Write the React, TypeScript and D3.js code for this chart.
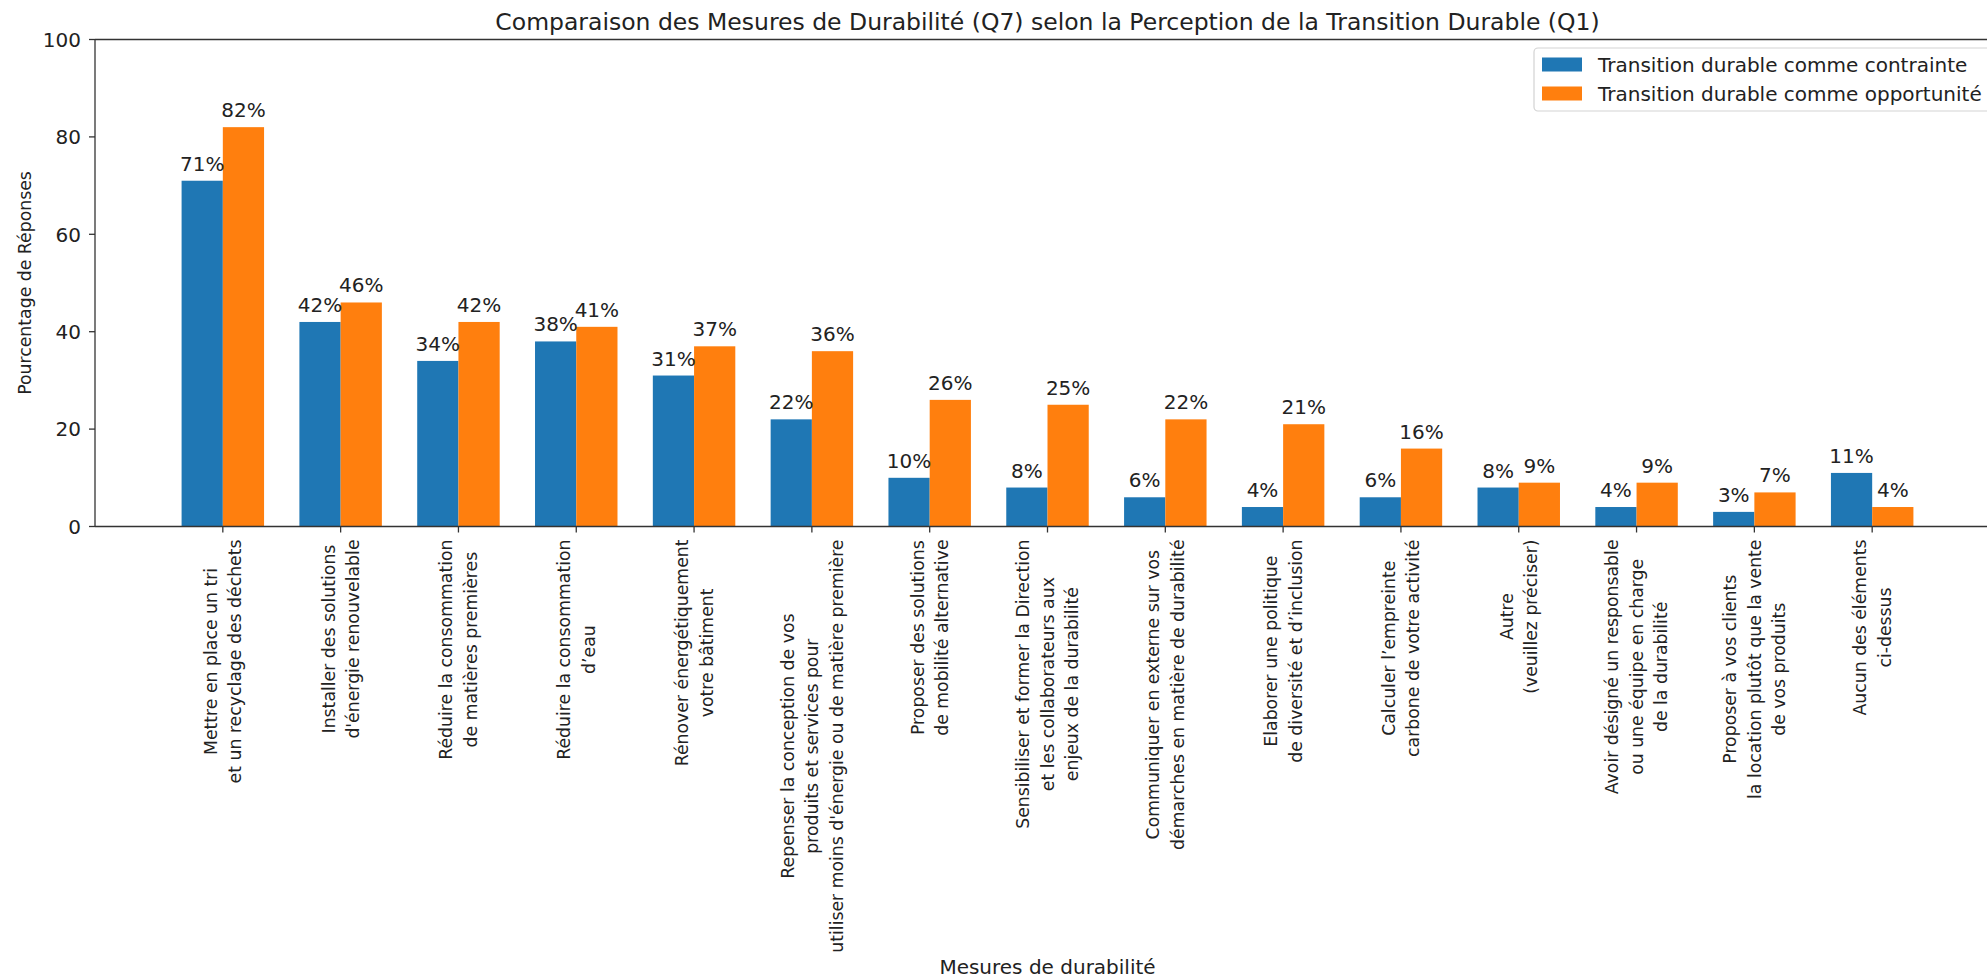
import React from 'react';
import * as d3 from 'd3';

const categories: string[] = [
  "Mettre en place un tri\net un recyclage des déchets",
  "Installer des solutions\nd'énergie renouvelable",
  "Réduire la consommation\nde matières premières",
  "Réduire la consommation\nd’eau",
  "Rénover énergétiquement\nvotre bâtiment",
  "Repenser la conception de vos\nproduits et services pour\nutiliser moins d'énergie ou de matière première",
  "Proposer des solutions\nde mobilité alternative",
  "Sensibiliser et former la Direction\net les collaborateurs aux\nenjeux de la durabilité",
  "Communiquer en externe sur vos\ndémarches en matière de durabilité",
  "Elaborer une politique\nde diversité et d’inclusion",
  "Calculer l’empreinte\ncarbone de votre activité",
  "Autre\n(veuillez préciser)",
  "Avoir désigné un responsable\nou une équipe en charge\nde la durabilité",
  "Proposer à vos clients\nla location plutôt que la vente\nde vos produits",
  "Aucun des éléments\nci-dessus",
];
const contrainte: number[] = [71, 42, 34, 38, 31, 22, 10, 8, 6, 4, 6, 8, 4, 3, 11];
const opportunite: number[] = [82, 46, 42, 41, 37, 36, 26, 25, 22, 21, 16, 9, 9, 7, 4];
const yTicks: number[] = [0, 20, 40, 60, 80, 100];
const seriesNames: string[] = ["Transition durable comme contrainte", "Transition durable comme opportunité"];
const seriesColors: string[] = ["#1f77b4", "#ff7f0e"];
const titleText = "Comparaison des Mesures de Durabilité (Q7) selon la Perception de la Transition Durable (Q1)";
const xLabelText = "Mesures de durabilité";
const yLabelText = "Pourcentage de Réponses";

const W = 1987;
const H = 980;
const FONT = "DejaVu Sans, sans-serif";
const FS = 20;
const FS_X = 17.3;
const TEXT = "#222";

let ctx: CanvasRenderingContext2D | null = null;
function measure(t: string, fs: number): number {
  if (typeof document === 'undefined') return t.length * fs * 0.55;
  if (!ctx) ctx = document.createElement('canvas').getContext('2d');
  if (!ctx) return t.length * fs * 0.55;
  ctx.font = `${fs}px "DejaVu Sans"`;
  return ctx.measureText(t).width;
}

export default function App() {
  const x = d3.scaleLinear().domain([-1.085, 15.085]).range([95, 2000]);
  const y = d3.scaleLinear().domain([0, 100]).range([526.5, 39.5]);
  const barW = 0.35;
  const x0 = x.range()[0];
  const x1 = x.range()[1];
  const yTop = y(100);
  const yBot = y(0);
  const series = [contrainte, opportunite];
  const lineH = 24.5;
  const labelTop = yBot + 13;

  return (
    <svg width={W} height={H} style={{ position: 'absolute', left: 0, top: 0, background: '#fff' }}
      fontFamily={FONT}>
      <rect x={0} y={0} width={W} height={H} fill="#fff" />
      {series.map((vals, s) =>
        vals.map((v, i) => {
          const xa = s === 0 ? x(i - barW) : x(i);
          const xb = s === 0 ? x(i) : x(i + barW);
          return (
            <rect key={`b${s}-${i}`} x={xa} y={y(v)} width={xb - xa} height={yBot - y(v)}
              fill={seriesColors[s]} />
          );
        })
      )}
      {series.map((vals, s) =>
        vals.map((v, i) => {
          const cx = s === 0 ? x(i - barW / 2) : x(i + barW / 2);
          return (
            <text key={`l${s}-${i}`} x={cx} y={y(v) - 10} textAnchor="middle" fontSize={FS} fill={TEXT}>
              {`${v}%`}
            </text>
          );
        })
      )}
      <line x1={x0} x2={x0} y1={yTop} y2={yBot} stroke="#333" strokeWidth={1.3} />
      <line x1={x0} x2={x1} y1={yBot} y2={yBot} stroke="#333" strokeWidth={1.3} />
      <line x1={x0} x2={x1} y1={yTop} y2={yTop} stroke="#333" strokeWidth={1.3} />
      <line x1={x1} x2={x1} y1={yTop} y2={yBot} stroke="#333" strokeWidth={1.3} />
      {yTicks.map((t) => (
        <g key={`yt${t}`}>
          <line x1={x0 - 6} x2={x0} y1={y(t)} y2={y(t)} stroke="#333" strokeWidth={1.3} />
          <text x={x0 - 14} y={y(t) + 7.2} textAnchor="end" fontSize={FS} fill={TEXT}>{t}</text>
        </g>
      ))}
      {categories.map((c, i) => {
        const lines = c.split("\n");
        const n = lines.length;
        const maxLen = Math.max(...lines.map((l) => measure(l, FS_X)));
        return (
          <g key={`xt${i}`}>
            <line x1={x(i)} x2={x(i)} y1={yBot} y2={yBot + 6} stroke="#333" strokeWidth={1.3} />
            <g transform={`translate(${x(i)},${labelTop}) rotate(-90)`}>
              {lines.map((l, k) => (
                <text key={k} x={-maxLen / 2} y={(k - (n - 1) / 2) * lineH + 6.2} textAnchor="middle"
                  fontSize={FS_X} fill={TEXT}>{l}</text>
              ))}
            </g>
          </g>
        );
      })}
      <text x={(x0 + x1) / 2} y={974} textAnchor="middle" fontSize={FS} fill={TEXT}>{xLabelText}</text>
      <text transform={`translate(${31},${(yTop + yBot) / 2}) rotate(-90)`} textAnchor="middle"
        fontSize={17.3} fill={TEXT}>{yLabelText}</text>
      <text x={(x0 + x1) / 2} y={30} textAnchor="middle" fontSize={23.5} fill={TEXT}>{titleText}</text>
      <g>
        <rect x={1534} y={48} width={470} height={63} rx={4} fill="#fff" fillOpacity={0.8}
          stroke="#d3d3d3" strokeWidth={1.2} />
        {seriesNames.map((nm, s) => {
          const cy = 64.5 + s * 29;
          return (
            <g key={`lg${s}`}>
              <rect x={1542} y={cy - 7} width={40} height={14} fill={seriesColors[s]} />
              <text x={1598} y={cy + 7.2} fontSize={FS} fill={TEXT}>{nm}</text>
            </g>
          );
        })}
      </g>
    </svg>
  );
}
